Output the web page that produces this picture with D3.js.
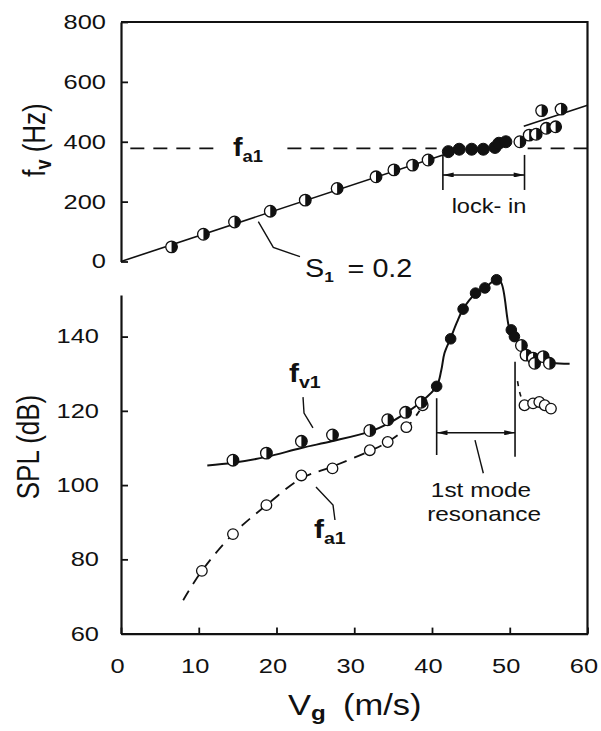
<!DOCTYPE html>
<html lang="en">
<head>
<meta charset="UTF-8">
<title>fv and SPL vs Vg</title>
<script src="https://cdn.jsdelivr.net/npm/d3@7"></script>
<style>
  body { margin: 0; background: #fff; }
  svg { display: block; }
  text { font-family: "Liberation Sans", Arial, Helvetica, sans-serif; fill: #111; }
</style>
</head>
<body>
<svg id="chart" width="601" height="731"></svg>
<script>
// ---- data ----
// top panel: vortex shedding frequency fv (Hz) vs Vg (m/s)
const fvHalfV = [6.5, 10.6, 14.6, 19.2, 23.7, 27.8, 32.8, 35.1, 37.5, 39.5, 51.3, 52.5, 53.4, 54.7, 55.9, 54.1, 56.6];
const fvHalfF = [49, 91, 132, 168, 205, 244, 283, 306, 322, 339, 400, 422, 425, 445, 450, 504, 509];
const fvLockV = [42.1, 43.5, 45.1, 46.6, 48.1, 48.6, 49.5];
const fvLockF = [367, 375, 375, 375, 381, 395, 400];
const s1LineV = [0, 42.0];
const s1LineF = [0, 361];
const upperLineV = [51.8, 60];
const upperLineF = [452, 522];
const fa1Level = 378;
const fTicks = [0, 200, 400, 600, 800];

// bottom panel: SPL (dB) vs Vg (m/s)
const splHalfV = [14.4, 18.7, 23.2, 27.2, 32.0, 34.3, 36.6, 38.6, 51.5, 52.1, 53.0, 53.2, 54.3, 55.1];
const splHalfS = [106.7, 108.6, 111.8, 113.5, 114.7, 117.6, 119.6, 122.3, 137.6, 135.0, 134.2, 132.8, 134.6, 132.8];
const splFillV = [40.6, 42.4, 44.0, 45.6, 46.8, 48.3, 50.2, 50.6];
const splFillS = [126.6, 139.4, 147.4, 151.7, 153.1, 155.3, 141.8, 140.0];
const splOpenV = [10.4, 14.4, 18.7, 23.2, 27.2, 32.0, 34.3, 36.7, 38.8, 51.9, 53.0, 53.8, 54.5, 55.3];
const splOpenS = [76.9, 86.8, 94.6, 102.6, 104.5, 109.4, 111.6, 115.6, 121.5, 121.5, 122.0, 122.4, 121.5, 120.6];
// hand-drawn curves through the data
const fvCurveV = [11.1, 14.4, 18.7, 23.2, 27.1, 32.0, 34.3, 36.6, 38.6, 40.6, 41.2, 41.6, 42.4, 43.2, 44.0, 45.6, 46.8, 48.3, 48.9, 50.0, 50.6, 51.5, 52.5, 54.0, 55.5, 57.7];
const fvCurveS = [105.3, 106.0, 107.6, 110.0, 111.8, 114.4, 116.5, 119.4, 122.4, 126.6, 131.0, 135.5, 139.6, 143.8, 147.4, 151.6, 153.2, 155.3, 154.5, 141.8, 140.0, 137.6, 135.3, 133.6, 132.9, 132.7];
const faCurveV = [8.0, 10.4, 14.4, 18.7, 23.2, 27.2, 32.0, 34.3, 36.7, 38.4];
const faCurveS = [69.0, 76.9, 86.8, 94.6, 101.8, 105.0, 109.2, 111.6, 115.4, 120.0];
const faTailV = [51.0, 51.3, 51.8];
const faTailS = [128.0, 124.8, 121.6];
const splTicks = [60, 80, 100, 120, 140];
const vTicks = [0, 10, 20, 30, 40, 50, 60];

const zip = (a, b) => a.map((v, i) => [v, b[i]]);

// ---- layout ----
const FONT = '"Liberation Sans", Arial, Helvetica, sans-serif';
const svg = d3.select('#chart');
const x = d3.scaleLinear().domain([0, 60]).range([121, 587.5]);
const yTop = d3.scaleLinear().domain([0, 800]).range([261.5, 22]);
const yBot = d3.scaleLinear().domain([60, 151.2]).range([633.6, 295]);

svg.append('defs').append('marker')
  .attr('id', 'arr').attr('viewBox', '0 0 13 6')
  .attr('refX', 13).attr('refY', 3)
  .attr('markerWidth', 13).attr('markerHeight', 5)
  .attr('markerUnits', 'userSpaceOnUse')
  .attr('orient', 'auto-start-reverse')
  .append('path').attr('d', 'M0,0L13,3L0,6Z').attr('fill', '#111');

function addText(parent, px, py, parts, o = {}) {
  const tr = o.transform || `translate(${px},${py}) scale(${o.sx || 1.2},1)`;
  const t = parent.append('text')
    .attr('transform', tr)
    .attr('text-anchor', o.anchor || 'start')
    .attr('font-size', o.size || 20);
  parts.forEach(p => {
    const s = t.append('tspan').text(p.t);
    if (p.size) s.attr('font-size', p.size);
    if (p.bold) s.attr('font-weight', 'bold');
    if (p.dy) s.attr('dy', p.dy);
    if (p.dx) s.attr('dx', p.dx);
  });
  return t;
}

function styleAxis(g, sx, shiftX) {
  g.attr('color', '#111').attr('font-size', 20).attr('font-family', FONT);
  g.select('.domain').attr('stroke-width', 2.2);
  g.selectAll('.tick line').attr('stroke-width', 1.8);
  g.selectAll('.tick text').each(function () {
    const t = d3.select(this);
    const tx = (+t.attr('x') || 0) + (shiftX || 0);
    const ty = +t.attr('y') || 0;
    t.attr('x', null).attr('y', null)
      .attr('transform', `translate(${tx},${ty}) scale(${sx},1)`);
  });
}

// ---- axes ----
const gTopAxis = svg.append('g').attr('transform', `translate(${x(0)},0)`)
  .call(d3.axisLeft(yTop).tickValues(fTicks).tickSize(-7).tickSizeOuter(0).tickPadding(15));
styleAxis(gTopAxis, 1.27, 0);

const gBotAxis = svg.append('g').attr('transform', `translate(${x(0)},0)`)
  .call(d3.axisLeft(yBot).tickValues(splTicks).tickSize(-7).tickSizeOuter(0).tickPadding(22));
styleAxis(gBotAxis, 1.27, 0);

const gXAxis = svg.append('g').attr('transform', `translate(0,${yBot(60)})`)
  .call(d3.axisBottom(x).tickValues(vTicks).tickSize(-6).tickSizeOuter(0).tickPadding(25));
styleAxis(gXAxis, 1.27, -4);

// frame: top line of upper panel and the right edge
svg.append('line').attr('x1', x(0)).attr('x2', x(60)).attr('y1', yTop(800)).attr('y2', yTop(800))
  .attr('stroke', '#111').attr('stroke-width', 2.2);
svg.append('line').attr('x1', x(60)).attr('x2', x(60)).attr('y1', yTop(800) - 1).attr('y2', yBot(60) + 1)
  .attr('stroke', '#111').attr('stroke-width', 2.2);

// axis titles
addText(svg, 0, 0, [{ t: 'f' }, { t: 'v', size: 18, bold: true, dy: 5 }, { t: ' (Hz)', dy: -5 }],
  { size: 26, anchor: 'middle', transform: 'translate(45,140) rotate(-90) scale(1,1.2)' });
addText(svg, 0, 0, [{ t: 'SPL  (dB)' }],
  { size: 26, anchor: 'middle', transform: 'translate(39,447) rotate(-90) scale(1,1.2)' });
addText(svg, 288, 715, [{ t: 'V' }, { t: 'g', size: 21, bold: true, dy: 5 }, { t: '(m/s)', dy: -5, dx: 15 }],
  { size: 30, sx: 1.15 });

// ---- top panel ----
const gUp = svg.append('g');
const lineTop = d3.line().x(d => x(d[0])).y(d => yTop(d[1]));

// f_a1 dashed level, broken under the label and across lock-in
[[1.2, 12.7], [21.4, 40.6], [52.3, 60]].forEach(seg => {
  gUp.append('path').attr('d', lineTop(seg.map(v => [v, fa1Level])))
    .attr('fill', 'none').attr('stroke', '#111').attr('stroke-width', 1.6)
    .attr('stroke-dasharray', '14,9');
});
gUp.append('path').attr('d', lineTop(zip(s1LineV, s1LineF)))
  .attr('fill', 'none').attr('stroke', '#111').attr('stroke-width', 1.6);
gUp.append('path').attr('d', lineTop(zip(upperLineV, upperLineF)))
  .attr('fill', 'none').attr('stroke', '#111').attr('stroke-width', 1.6);

// lock-in bracket
[41.4, 51.9].forEach(v => {
  gUp.append('line').attr('x1', x(v)).attr('x2', x(v)).attr('y1', yTop(356)).attr('y2', yTop(239))
    .attr('stroke', '#111').attr('stroke-width', 1.6);
});
gUp.append('line').attr('x1', x(41.4)).attr('x2', x(51.9)).attr('y1', yTop(289)).attr('y2', yTop(289))
  .attr('stroke', '#111').attr('stroke-width', 1.6)
  .attr('marker-start', 'url(#arr)').attr('marker-end', 'url(#arr)');
addText(gUp, x(47.33), yTop(162), [{ t: 'lock- in' }], { size: 20, anchor: 'middle', sx: 1.18 });

// S1 leader and label
gUp.append('path').attr('d', lineTop([[17.66, 132.9], [19.59, 47.4], [23.02, 16.0]]))
  .attr('fill', 'none').attr('stroke', '#111').attr('stroke-width', 1.4);
addText(gUp, x(23.67), yTop(-51.8), [{ t: 'S' }, { t: '1', size: 15, bold: true, dy: 5 }, { t: '= 0.2', dy: -5, dx: 12 }],
  { size: 25, sx: 1.15 });
addText(gUp, x(14.4), yTop(352.4), [{ t: 'f', bold: true }, { t: 'a1', size: 16, bold: true, dy: 6 }],
  { size: 25, sx: 1.15 });

// ---- bottom panel ----
const gLow = svg.append('g');
const lineBot = d3.line().x(d => x(d[0])).y(d => yBot(d[1])).curve(d3.curveCatmullRom.alpha(0.5));
const lineBotStraight = d3.line().x(d => x(d[0])).y(d => yBot(d[1]));

gLow.append('path').attr('d', lineBot(zip(faCurveV, faCurveS)))
  .attr('fill', 'none').attr('stroke', '#111').attr('stroke-width', 1.8).attr('stroke-dasharray', '11,8');
gLow.append('path').attr('d', lineBot(zip(faTailV, faTailS)))
  .attr('fill', 'none').attr('stroke', '#111').attr('stroke-width', 1.6).attr('stroke-dasharray', '5,6');
gLow.append('path').attr('d', lineBot(zip(fvCurveV, fvCurveS)))
  .attr('fill', 'none').attr('stroke', '#111').attr('stroke-width', 2);

// resonance bracket
gLow.append('line').attr('x1', x(40.6)).attr('x2', x(40.6)).attr('y1', yBot(123.4)).attr('y2', yBot(108.1))
  .attr('stroke', '#111').attr('stroke-width', 1.6);
gLow.append('line').attr('x1', x(50.68)).attr('x2', x(50.68)).attr('y1', yBot(133.2)).attr('y2', yBot(107.6))
  .attr('stroke', '#111').attr('stroke-width', 1.6);
gLow.append('line').attr('x1', x(40.6)).attr('x2', x(50.68)).attr('y1', yBot(114.1)).attr('y2', yBot(114.1))
  .attr('stroke', '#111').attr('stroke-width', 1.6)
  .attr('marker-start', 'url(#arr)').attr('marker-end', 'url(#arr)');
gLow.append('path').attr('d', lineBotStraight([[45.53, 112.1], [46.6, 103.2]]))
  .attr('fill', 'none').attr('stroke', '#111').attr('stroke-width', 1.4);
addText(gLow, x(46.3), yBot(96.8), [{ t: '1st mode' }], { size: 20, anchor: 'middle', sx: 1.22 });
addText(gLow, x(46.7), yBot(90.3), [{ t: 'resonance' }], { size: 20, anchor: 'middle', sx: 1.22 });

// curve labels
gLow.append('path').attr('d', lineBotStraight([[23.41, 123.7], [23.54, 119.4], [24.69, 115.4]]))
  .attr('fill', 'none').attr('stroke', '#111').attr('stroke-width', 1.4);
addText(gLow, x(21.6), yBot(127.8), [{ t: 'f', bold: true }, { t: 'v1', size: 17, bold: true, dy: 6 }],
  { size: 26, sx: 1.15 });
gLow.append('path').attr('d', lineBotStraight([[25.08, 99.5], [27.27, 94.6], [27.52, 90.6]]))
  .attr('fill', 'none').attr('stroke', '#111').attr('stroke-width', 1.4);
addText(gLow, x(24.82), yBot(85.7), [{ t: 'f', bold: true }, { t: 'a1', size: 17, bold: true, dy: 6 }],
  { size: 26, sx: 1.15 });

// ---- markers ----
function openPts(g, pts, ys, r) {
  g.selectAll(null).data(pts).enter().append('circle')
    .attr('cx', d => x(d[0])).attr('cy', d => ys(d[1])).attr('r', r)
    .attr('fill', '#fff').attr('stroke', '#111').attr('stroke-width', 1.3);
}
function fillPts(g, pts, ys, r) {
  g.selectAll(null).data(pts).enter().append('circle')
    .attr('cx', d => x(d[0])).attr('cy', d => ys(d[1])).attr('r', r)
    .attr('fill', '#111').attr('stroke', '#111').attr('stroke-width', 1);
}
function halfPts(g, pts, ys, r) {
  const half = d3.arc().innerRadius(0).outerRadius(r).startAngle(0).endAngle(Math.PI);
  const m = g.selectAll(null).data(pts).enter().append('g')
    .attr('transform', d => `translate(${x(d[0])},${ys(d[1])})`);
  m.append('circle').attr('r', r).attr('fill', '#fff').attr('stroke', '#111').attr('stroke-width', 1.3);
  m.append('path').attr('d', half()).attr('fill', '#111');
}

halfPts(gUp, zip(fvHalfV, fvHalfF), yTop, 5.8);
fillPts(gUp, zip(fvLockV, fvLockF), yTop, 6);

openPts(gLow, zip(splOpenV, splOpenS), yBot, 5.3);
halfPts(gLow, zip(splHalfV, splHalfS), yBot, 5.8);
fillPts(gLow, zip(splFillV, splFillS), yBot, 5.3);
</script>
</body>
</html>
